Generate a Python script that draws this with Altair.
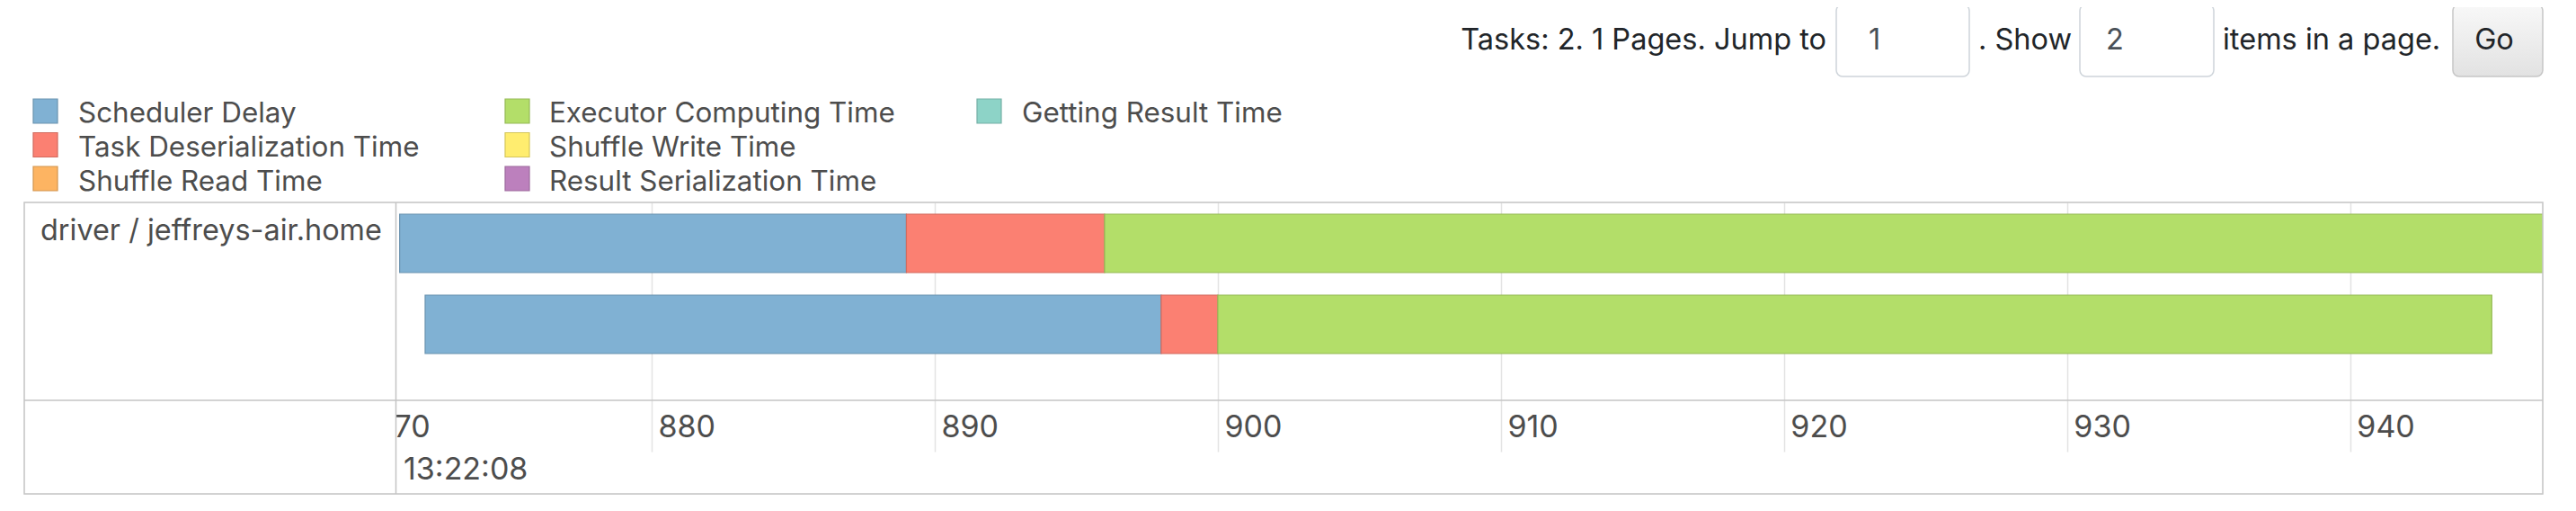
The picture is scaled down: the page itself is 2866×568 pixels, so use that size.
import altair as alt
import pandas as pd

# ---------------- data ----------------
categories = ["Scheduler Delay", "Task Deserialization Time", "Shuffle Read Time",
              "Executor Computing Time", "Shuffle Write Time", "Result Serialization Time",
              "Getting Result Time"]
fill_colors = ["#80B1D3", "#FB8072", "#FDB462", "#B3DE69", "#FFED6F", "#BC80BD", "#8DD3C7"]
stroke_colors = ["#6B94B0", "#D26B5F", "#D39651", "#95B957", "#D5C65C", "#9D6B9E", "#75B0A6"]

task_ids = ["task 0", "task 1"]
seg_task = ["task 0", "task 0", "task 0", "task 1", "task 1", "task 1"]
seg_phase = ["Scheduler Delay", "Task Deserialization Time", "Executor Computing Time",
             "Scheduler Delay", "Task Deserialization Time", "Executor Computing Time"]
seg_start = [871.1, 889.0, 896.0, 872.0, 898.0, 900.0]   # ms after 13:22:08
seg_end = [889.0, 896.0, 950.0, 898.0, 900.0, 945.0]

tick_values = [870, 880, 890, 900, 910, 920, 930, 940]
x_domain = [868, 946.8]
row_label = "driver / jeffreys-air.home"
date_label = "13:22:08"
pager_texts = ["Tasks: 2. 1 Pages. Jump to", ". Show", "items in a page."]
page_value = "1"
size_value = "2"
button_label = "Go"

# ---------------- layout ----------------
FONT = "Inter"
W, H = 2482, 220
TXT = "#4d4d4d"
DARK = "#212529"
BORDER = "#c4c4c4"
GRID = "#e3e3e3"

one = pd.DataFrame({"k": [0]})

bars_df = pd.DataFrame({"task": seg_task, "phase": seg_phase,
                        "start": seg_start, "end": seg_end})

fill_scale = alt.Scale(domain=categories, range=fill_colors)
stroke_scale = alt.Scale(domain=categories, range=stroke_colors)

bars = alt.Chart(bars_df).mark_bar(clip=True, strokeWidth=1.2).encode(
    x=alt.X("start:Q",
            scale=alt.Scale(domain=x_domain, nice=False, zero=False),
            axis=alt.Axis(values=tick_values, format="d", title=None, domain=False,
                          grid=True, gridColor=GRID, gridWidth=1.5,
                          ticks=True, tickColor=GRID, tickWidth=1.5, tickSize=57,
                          labelFont=FONT, labelFontSize=34, labelColor=TXT,
                          labelAlign="left", labelBaseline="alphabetic", labelOffset=7,
                          labelPadding=-17, labelFlush=False, labelOverlap=False)),
    x2="end:Q",
    y=alt.Y("task:N", scale=alt.Scale(domain=task_ids, paddingInner=0.2778,
                                      paddingOuter=0.3611, align=0.2), axis=None),
    fill=alt.Fill("phase:N", scale=fill_scale, legend=None),
    stroke=alt.Stroke("phase:N", scale=stroke_scale, legend=None),
)


def rect(x1, x2, y1, y2, **kw):
    return alt.Chart(one).mark_rect(**kw).encode(
        x=alt.value(x1), x2=alt.value(x2), y=alt.value(y1), y2=alt.value(y2))


def rule(x1, x2, y1, y2, color=BORDER, width=1.5):
    return alt.Chart(one).mark_rule(color=color, strokeWidth=width).encode(
        x=alt.value(x1), x2=alt.value(x2), y=alt.value(y1), y2=alt.value(y2))


def txt(s, x, y, size, color, align="left"):
    d = pd.DataFrame({"t": [s]})
    return alt.Chart(d).mark_text(align=align, baseline="alphabetic", font=FONT,
                                  fontSize=size, color=color).encode(
        x=alt.value(x), y=alt.value(y), text="t:N")


# left column cover (hides the grid/tick part falling under the label cell)
cover = rect(-320, 93.5, 0, 324, fill="white")
frame = rect(-320, W, 0, 324, fill="transparent", stroke=BORDER, strokeWidth=1.5)
col_sep = rule(93.5, 93.5, 0, 324)
row_sep = rule(-320, W, 220, 220)

left_label = txt(row_label, -302, 42, 32.4, TXT)
date_txt = txt(date_label, 102, 308, 34, TXT)

# legend (column-major, 3 rows)
sq_x = [-296.5, 228.5, 753.5]
tx_x = [-260, 264, 790]
sq_y = [-101.5, -64, -26.5]
tx_y = [-89, -51, -13.5]
leg_df = pd.DataFrame({
    "name": categories,
    "sx": [sq_x[i // 3] for i in range(len(categories))],
    "sy": [sq_y[i % 3] for i in range(len(categories))],
    "tx": [tx_x[i // 3] for i in range(len(categories))],
    "ty": [tx_y[i % 3] for i in range(len(categories))],
})
leg_sq = alt.Chart(leg_df).mark_square(size=27 * 27, opacity=1, strokeWidth=1.2).encode(
    x=alt.X("sx:Q", scale=None), y=alt.Y("sy:Q", scale=None),
    fill=alt.Fill("name:N", scale=fill_scale, legend=None),
    stroke=alt.Stroke("name:N", scale=stroke_scale, legend=None),
)
leg_tx = alt.Chart(leg_df).mark_text(align="left", baseline="alphabetic", font=FONT,
                                     fontSize=31.4, color=TXT).encode(
    x=alt.X("tx:Q", scale=None), y=alt.Y("ty:Q", scale=None), text="name:N")

# pager controls
PY = -170
PS = 32.5
button_fill = alt.LinearGradient(
    gradient="linear",
    stops=[alt.GradientStop(color="#f8f8f8", offset=0),
           alt.GradientStop(color="#e2e2e2", offset=1)],
    x1=0, x2=0, y1=0, y2=1)
pager = [
    txt(pager_texts[0], 1685, PY, PS, DARK, align="right"),
    rect(1696, 1844, -220, -140, fill="white", stroke="#ced4da", strokeWidth=1.5, cornerRadius=7),
    txt(page_value, 1732, PY, PS, "#495057"),
    txt(pager_texts[1], 1958, PY, PS, DARK, align="right"),
    rect(1967, 2116, -220, -140, fill="white", stroke="#ced4da", strokeWidth=1.5, cornerRadius=7),
    txt(size_value, 1996, PY, PS, "#495057"),
    txt(pager_texts[2], 2126, PY, PS, DARK),
    rect(2382, 2482, -220, -140, fill=button_fill, stroke="#c6c6c6", strokeWidth=1.5, cornerRadius=7),
    txt(button_label, 2428, PY, PS, DARK, align="center"),
]

chart = alt.layer(
    bars, cover, frame, col_sep, row_sep, left_label, date_txt, leg_sq, leg_tx, *pager
).properties(
    width=W, height=H,
    padding={"left": 339, "top": 217, "right": 20, "bottom": 115},
    autosize=alt.AutoSizeParams(type="none"),
    background="white",
).configure_view(stroke=None)

chart.save("out.html", embed_options={"renderer": "svg", "actions": False})
